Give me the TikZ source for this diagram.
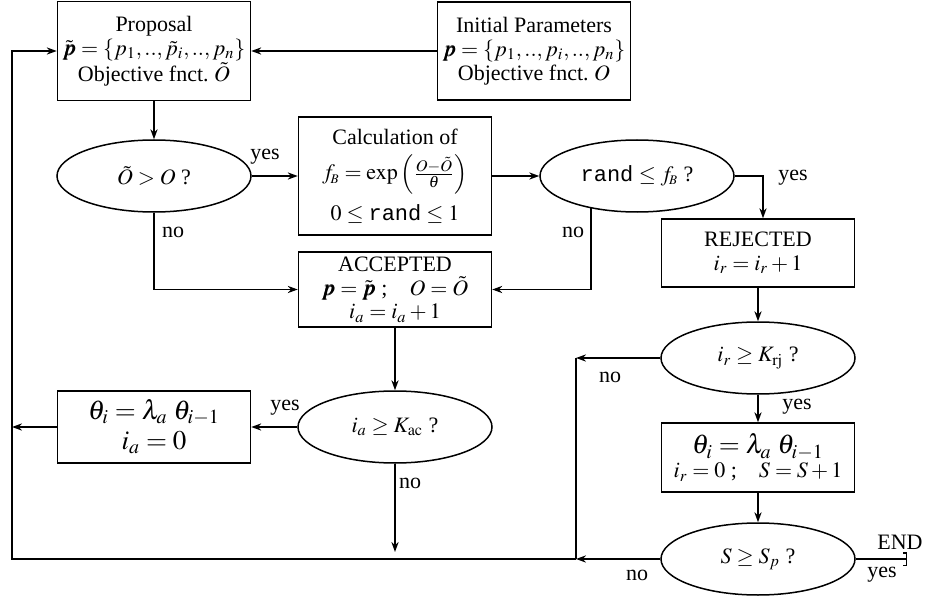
\documentclass[tikz,border=0pt]{standalone}
\usepackage{amsmath}
\usepackage{mathptmx}
\usepackage{bm}
\usepackage[no-math]{fontspec}
\setmainfont{Liberation Serif}
\setmonofont{Liberation Mono}
\usetikzlibrary{arrows.meta, positioning, shapes.geometric}

\begin{document}
\begin{tikzpicture}[
  x=0.5pt, y=-0.5pt,
  >=Stealth,
  stepbox/.style={
    rectangle, draw, line width=0.75pt, minimum width=96.5pt,
    align=center, inner sep=1pt, font=\fontsize{11}{11.9}\selectfont
  },
  query/.style={
    ellipse, draw, line width=0.75pt, minimum width=97pt,
    minimum height=36pt, inner sep=0pt, font=\fontsize{11}{12}\selectfont
  },
  flow/.style={-{Stealth[length=5pt, width=3.6pt]}, line width=0.75pt},
  link/.style={line width=0.75pt},
  ans/.style={font=\fontsize{11}{12}\selectfont, inner sep=0pt},
  big/.style={font=\fontsize{13.5}{15}\selectfont},
]

\useasboundingbox (0,0) rectangle (927,599);

\def\colA{154}
\def\colB{395}
\def\colC{637}
\def\colD{758}
\def\colL{12}
\def\colJ{576}

\def\rA{51}
\def\rB{176}
\def\rC{289.5}
\def\rD{253}
\def\rE{358}
\def\rF{427}
\def\rG{457.5}
\def\rH{559}

% boxes and tests
\node[stepbox, minimum height=49.5pt] (prop) at (\colA, \rA)
  {Proposal\\ $\tilde{\bm p} = \{p_1, .., \tilde p_i, .., p_n\}$\\ Objective fnct.\ $\tilde O$};
\node[stepbox, minimum height=49pt] (init) at (534, \rA)
  {Initial Parameters\\ $\bm p = \{p_1, .., p_i, .., p_n\}$\\ Objective fnct.\ $O$};
\node[query] (qObj) at (\colA, \rB) {$\tilde O > O$ ?};
\node[stepbox, minimum height=59pt] (calc) at (\colB, \rB)
  {Calculation of\\[4pt] $f_{\!\scriptscriptstyle B} = \exp\left(\frac{O-\tilde O}{\theta}\right)$\\[4pt] $0 \le \text{\texttt{rand}} \le 1$};
\node[query] (qRand) at (\colC, \rB) {\texttt{rand} $\le f_{\!\scriptscriptstyle B}$ ?};
\node[stepbox, minimum height=37.5pt] (acc) at (\colB, \rC)
  {ACCEPTED\\ $\bm p = \tilde{\bm p}$ ;\quad $O = \tilde O$\\ $i_a = i_a + 1$};
\node[stepbox, minimum height=34pt] (rej) at (\colD, \rD)
  {REJECTED\\ $i_r = i_r + 1$};
\node[query] (qRej) at (\colD, \rE) {$i_r \ge K_{\mathrm{rj}}$ ?};
\node[query] (qAcc) at (\colB, \rF) {$i_a \ge K_{\mathrm{ac}}$ ?};
\node[stepbox, big, minimum height=36pt] (coolA) at (\colA, \rF)
  {$\theta_i = \lambda_a\; \theta_{i-1}$\\ $i_a = 0$};
\node[stepbox, minimum height=34.5pt] (coolR) at (\colD, \rG)
  {{\fontsize{13.5}{14}\selectfont $\theta_i = \lambda_a\; \theta_{i-1}$}\\ $i_r = 0$ ;\quad $S = S + 1$};
\node[query] (qStage) at (\colD, \rH) {$S \ge S_p$ ?};

% loop points
\coordinate (loopBL) at (\colL, \rH);
\coordinate (join) at (\colJ, \rH);
\coordinate (accEnd) at (\colB, 552);
\coordinate (finish) at (907, \rH);

% main flow
\draw[flow] (init) -- (prop);
\draw[flow] (prop) -- (qObj);
\draw[flow] (qObj) -- (calc);
\draw[flow] (calc) -- (qRand);
\draw[flow] (qObj.south) |- (acc.west);
\draw[flow] (qRand.-145) |- (acc.east);
\draw[flow] (qRand.east) -| ([xshift=2.5pt]rej.north);
\draw[flow] (acc) -- (qAcc);
\draw[flow] (qAcc) -- (coolA);
\draw[flow] (coolA.west) -- (coolA.west -| loopBL);
\draw[flow] (qAcc.south) -- (accEnd);
\draw[flow] (rej) -- (qRej);
\draw[flow] (qRej) -- (coolR);
\draw[flow] (coolR) -- (qStage);

% back to proposal
\draw[flow] (qRej.west) -- (qRej.west -| join);
\draw[link] (qRej.west -| join) -- (join);
\draw[flow] (qStage.west) -- (join);
\draw[flow] (join) -- (loopBL) |- (prop.west);

% end
\draw[link, -{Bracket[width=7pt, length=1.5pt]}] (qStage.east) -- (finish);

% answers
\node[ans] (yObj)   at (265, 157) {yes};
\node[ans] (nObj)   at (173, 232) {no};
\node[ans] (nRand)  at (573, 232) {no};
\node[ans] (yRand)  at (793, 178) {yes};
\node[ans] (yAcc)   at (285, 408) {yes};
\node[ans] (nAcc)   at (410, 483) {no};
\node[ans] (nRej)   at (610, 377) {no};
\node[ans] (yRej)   at (797, 407) {yes};
\node[ans] (nStage) at (637, 575) {no};
\node[ans] (yStage) at (882, 575) {yes};
\node[ans] (endT)   at (900, 542) {END};

\end{tikzpicture}
\end{document}
